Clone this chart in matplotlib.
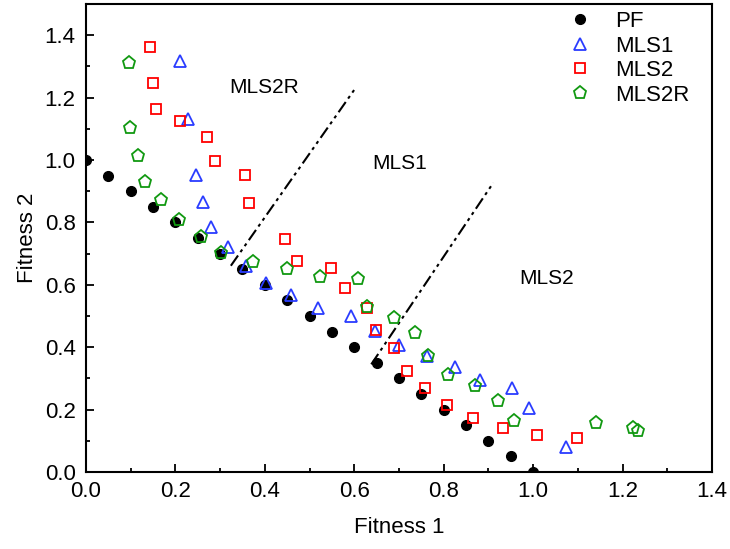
import matplotlib
matplotlib.use("Agg")
import matplotlib.pyplot as plt
from matplotlib.ticker import MultipleLocator, FormatStrFormatter

plt.rcParams['font.family'] = ['Liberation Sans', 'DejaVu Sans']

# Pareto front
pf_x = [0.0, 0.05, 0.10, 0.15, 0.20, 0.25, 0.30, 0.35, 0.40, 0.45, 0.50,
        0.55, 0.60, 0.65, 0.70, 0.75, 0.80, 0.85, 0.90, 0.95, 1.00]
pf_y = [1.00, 0.95, 0.90, 0.85, 0.80, 0.75, 0.70, 0.65, 0.60, 0.55, 0.50,
        0.45, 0.40, 0.35, 0.30, 0.25, 0.20, 0.15, 0.10, 0.05, 0.00]

mls1_x = [0.210, 0.228, 0.246, 0.262, 0.280, 0.318, 0.358, 0.403, 0.458, 0.519,
          0.593, 0.647, 0.700, 0.763, 0.825, 0.882, 0.953, 0.991, 1.074]
mls1_y = [1.316, 1.131, 0.952, 0.866, 0.785, 0.722, 0.661, 0.607, 0.566, 0.527,
          0.501, 0.451, 0.406, 0.371, 0.335, 0.294, 0.268, 0.204, 0.080]

mls2_x = [0.143, 0.150, 0.157, 0.210, 0.271, 0.289, 0.356, 0.365, 0.445, 0.472,
          0.548, 0.579, 0.628, 0.649, 0.689, 0.718, 0.758, 0.808, 0.866, 0.933,
          1.009, 1.098]
mls2_y = [1.361, 1.246, 1.163, 1.125, 1.073, 0.997, 0.952, 0.863, 0.747, 0.677,
          0.655, 0.591, 0.527, 0.454, 0.396, 0.323, 0.268, 0.214, 0.172, 0.140,
          0.118, 0.109]

mls2r_x = [0.096, 0.098, 0.116, 0.132, 0.168, 0.208, 0.257, 0.302, 0.374, 0.449,
           0.523, 0.608, 0.628, 0.689, 0.736, 0.765, 0.810, 0.870, 0.922, 0.958,
           1.141, 1.224, 1.235]
mls2r_y = [1.310, 1.102, 1.013, 0.930, 0.872, 0.808, 0.754, 0.703, 0.674, 0.649,
           0.626, 0.617, 0.529, 0.495, 0.444, 0.371, 0.310, 0.275, 0.227, 0.163,
           0.156, 0.141, 0.131]

# Region boundaries (dash-dot) and region names
bound1_x = [0.324, 0.604]
bound1_y = [0.661, 1.233]
bound2_x = [0.638, 0.911]
bound2_y = [0.345, 0.927]
region_names = ["MLS2R", "MLS1", "MLS2"]
region_x = [0.398, 0.702, 1.031]
region_y = [1.233, 0.990, 0.620]

fig = plt.figure(figsize=(7.30, 5.49), dpi=100)
ax = fig.add_axes([0.1178, 0.1403, 0.8575, 0.8525])

ax.plot(pf_x, pf_y, 'o', color='black', markersize=7, label='PF', zorder=3)
ax.plot(mls1_x, mls1_y, '^', color='#2a3cff', markersize=9, markerfacecolor='none',
        markeredgewidth=1.3, label='MLS1', zorder=4)
ax.plot(mls2_x, mls2_y, 's', color='#ff0000', markersize=7, markerfacecolor='none',
        markeredgewidth=1.3, label='MLS2', zorder=4)
ax.plot(mls2r_x, mls2r_y, 'p', color='#119911', markersize=9.5, markerfacecolor='none',
        markeredgewidth=1.3, label='MLS2R', zorder=4)

dashdot = (0, (6, 2, 1.5, 2, 1.5, 2))
ax.plot(bound1_x, bound1_y, color='black', linestyle=dashdot, linewidth=1.5)
ax.plot(bound2_x, bound2_y, color='black', linestyle=dashdot, linewidth=1.5)

for name, tx, ty in zip(region_names, region_x, region_y):
    ax.text(tx, ty, name, fontsize=15, ha='center', va='center')

ax.set_xlim(0, 1.4)
ax.set_ylim(0, 1.5)
ax.xaxis.set_major_locator(MultipleLocator(0.2))
ax.xaxis.set_minor_locator(MultipleLocator(0.1))
ax.yaxis.set_minor_locator(MultipleLocator(0.1))
ax.set_yticks([0.0, 0.2, 0.4, 0.6, 0.8, 1.0, 1.2, 1.4])
ax.xaxis.set_major_formatter(FormatStrFormatter('%.1f'))
ax.yaxis.set_major_formatter(FormatStrFormatter('%.1f'))

ax.tick_params(which='both', direction='in', top=False, right=False, width=1.3)
ax.tick_params(which='major', length=6, labelsize=16)
ax.tick_params(axis='x', which='major', pad=6.5)
ax.tick_params(axis='y', which='major', pad=7.5)
ax.tick_params(which='minor', length=3)
for s in ax.spines.values():
    s.set_linewidth(1.5)

ax.set_xlabel('Fitness 1', fontsize=16, labelpad=11)
ax.set_ylabel('Fitness 2', fontsize=16, labelpad=5)

ax.legend(loc='upper left', bbox_to_anchor=(0.7396, 1.004), frameon=False,
          fontsize=16, handlelength=2.0, handletextpad=0.58,
          borderaxespad=0.0, labelspacing=0.16)

fig.savefig('out.png', dpi=100)
